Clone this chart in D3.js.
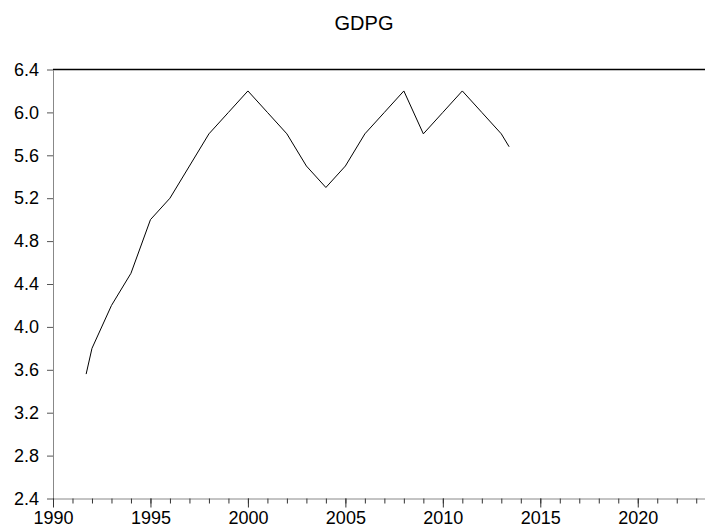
<!DOCTYPE html>
<html>
<head>
<meta charset="utf-8">
<script src="https://cdn.jsdelivr.net/npm/d3@7"></script>
<style>
  body { margin: 0; background: #fff; }
  text { font-family: "Liberation Sans", Arial, sans-serif; }
</style>
</head>
<body>
<div id="chart"></div>
<script>
// series
const years = [1991.7, 1992, 1993, 1994, 1995, 1996, 1997, 1998, 1999, 2000, 2001, 2002, 2003, 2004, 2005, 2006, 2007, 2008, 2009, 2010, 2011, 2012, 2013, 2013.4];
const gdpg  = [3.56, 3.8, 4.2, 4.5, 5.0, 5.2, 5.5, 5.8, 6.0, 6.2, 6.0, 5.8, 5.5, 5.3, 5.5, 5.8, 6.0, 6.2, 5.8, 6.0, 6.2, 6.0, 5.8, 5.68];
const yTicks = [2.4, 2.8, 3.2, 3.6, 4.0, 4.4, 4.8, 5.2, 5.6, 6.0, 6.4];
const xMajor = [1990, 1995, 2000, 2005, 2010, 2015, 2020];
const xMinor = d3.range(1990, 2024);
const title = "GDPG";

const data = years.map((y, i) => ({year: y, value: gdpg[i]}));

const width = 705, height = 532;
const margin = {top: 69.5, right: 0, bottom: 33.5, left: 53};

const svg = d3.select("#chart")
  .append("svg")
  .attr("width", width)
  .attr("height", height);

const x = d3.scaleLinear()
  .domain([1990, 2023.45])
  .range([margin.left, width - margin.right]);

const y = d3.scaleLinear()
  .domain([2.4, 6.4])
  .range([height - margin.bottom, margin.top]);

// title
svg.append("text")
  .attr("x", 364)
  .attr("y", 29.5)
  .attr("text-anchor", "middle")
  .attr("font-size", "20px")
  .attr("fill", "#000")
  .text(title);

// top frame line
svg.append("line")
  .attr("x1", margin.left)
  .attr("x2", width)
  .attr("y1", margin.top)
  .attr("y2", margin.top)
  .attr("stroke", "#000")
  .attr("stroke-width", 1.5);

// Y axis
svg.append("g")
  .attr("transform", `translate(${margin.left},0)`)
  .call(d3.axisLeft(y).tickValues(yTicks).tickFormat(d3.format(".1f")).tickSize(6).tickSizeOuter(0))
  .call(g => g.select(".domain").attr("stroke", "#888"))
  .call(g => g.selectAll(".tick line").attr("stroke", "#555"))
  .call(g => g.selectAll(".tick text")
    .attr("x", -14)
    .attr("font-size", "18px")
    .attr("font-family", "Liberation Sans, Arial, sans-serif")
    .attr("fill", "#000"));

// X axis minor ticks
svg.append("g")
  .attr("transform", `translate(0,${height - margin.bottom})`)
  .call(d3.axisBottom(x).tickValues(xMinor).tickFormat("").tickSize(5).tickSizeOuter(0))
  .call(g => g.select(".domain").attr("stroke", "#888"))
  .call(g => g.selectAll(".tick line").attr("stroke", "#333"));

// X axis major ticks and labels
svg.append("g")
  .attr("transform", `translate(0,${height - margin.bottom})`)
  .call(d3.axisBottom(x).tickValues(xMajor).tickFormat(d3.format("d")).tickSize(9).tickSizeOuter(0))
  .call(g => g.select(".domain").remove())
  .call(g => g.selectAll(".tick line").attr("stroke", "#333"))
  .call(g => g.selectAll(".tick text")
    .attr("y", 13)
    .attr("font-size", "18px")
    .attr("font-family", "Liberation Sans, Arial, sans-serif")
    .attr("fill", "#000"));

// line
const line = d3.line()
  .x(d => x(d.year))
  .y(d => y(d.value));

svg.append("path")
  .datum(data)
  .attr("fill", "none")
  .attr("stroke", "#000")
  .attr("stroke-width", 1)
  .attr("d", line);
</script>
</body>
</html>
